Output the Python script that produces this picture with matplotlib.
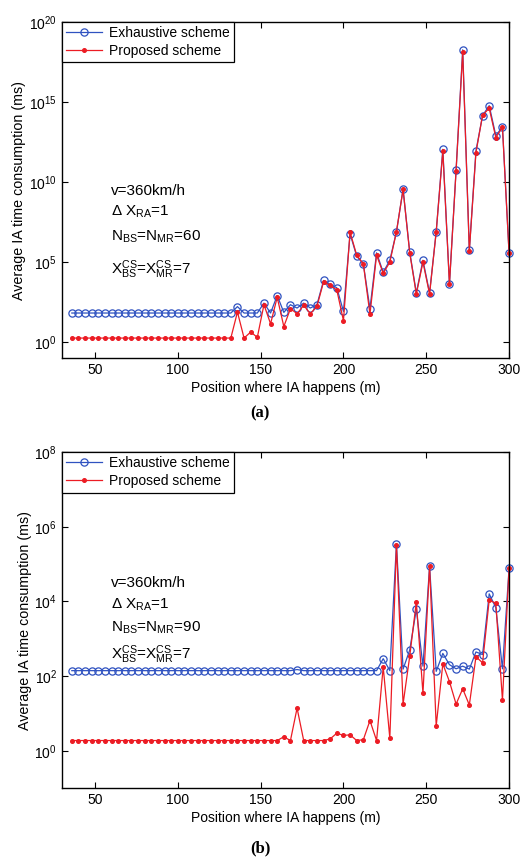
import numpy as np
import matplotlib
matplotlib.use("Agg")
import matplotlib.pyplot as plt
from matplotlib.ticker import NullLocator

plt.rcParams['font.family'] = ['Liberation Sans', 'DejaVu Sans']
plt.rcParams['mathtext.fontset'] = 'custom'
plt.rcParams['mathtext.rm'] = 'Liberation Sans'
plt.rcParams['mathtext.it'] = 'Liberation Sans'

#############################
### Data ###
#############################

# position where IA happens (m)
positions = np.arange(36, 301, 4)

# (a) N_BS = N_MR = 60
exh_a = [66, 66, 66, 66, 66, 66, 66, 66, 66, 66, 66, 66, 66, 66, 66, 66, 66, 66, 66, 66,
         66, 66, 66, 66, 66,
         166, 66, 66, 66, 275, 66, 813, 72, 219, 135, 275, 135, 219, 7.1e3, 4.0e3, 2.5e3,
         83, 5.9e6, 2.3e5, 7.8e4, 123, 3.8e5, 2.3e4, 1.3e5, 7.8e6, 3.5e9, 4.4e5, 1.2e3,
         1.3e5, 1.2e3, 7.8e6, 1.1e12, 4.3e3, 5.5e10, 1.8e18, 5.4e5, 8.9e11, 1.4e14, 5.9e14,
         7.8e12, 2.8e13, 3.5e5]
prop_a = [1.8, 1.8, 1.8, 1.8, 1.8, 1.8, 1.8, 1.8, 1.8, 1.8, 1.8, 1.8, 1.8, 1.8, 1.8, 1.8,
          1.8, 1.8, 1.8, 1.8, 1.8, 1.8, 1.8, 1.8, 1.8,
          76, 1.8, 4.3, 2.0, 219, 14, 630, 9.5, 123, 60, 200, 60, 174, 5.8e3, 3.5e3, 1.8e3,
          22, 7.4e6, 2.7e5, 7.8e4, 56, 2.7e5, 2.0e4, 9.8e4, 7.8e6, 3.5e9, 3.8e5, 1.0e3,
          1.0e5, 1.0e3, 7.8e6, 8.1e11, 4.3e3, 5.0e10, 1.3e18, 5.0e5, 6.9e11, 1.5e14, 4.0e14,
          6.0e12, 2.6e13, 3.5e5]

# (b) N_BS = N_MR = 90
exh_b = [141, 141, 141, 141, 141, 141, 141, 141, 141, 141, 141, 141, 141, 141, 141, 141,
         141, 141, 141, 141, 141, 141, 141, 141, 141, 141, 141, 141, 141, 141, 141, 141,
         141, 141, 151, 141, 141, 141, 141, 141, 141, 141, 141, 141, 141, 141, 141,
         295, 141, 3.5e5, 155, 500, 6.2e3, 186, 8.7e4, 135, 407, 204, 158, 186, 155, 447,
         380, 1.6e4, 6.8e3, 158, 7.8e4]
prop_b = [1.9, 1.9, 1.9, 1.9, 1.9, 1.9, 1.9, 1.9, 1.9, 1.9, 1.9, 1.9, 1.9, 1.9, 1.9, 1.9,
          1.9, 1.9, 1.9, 1.9, 1.9, 1.9, 1.9, 1.9, 1.9, 1.9, 1.9, 1.9, 1.9, 1.9, 1.9, 1.9,
          2.4, 1.9, 14, 1.9, 1.9, 1.9, 1.9, 2.1, 3.0, 2.6, 2.7, 1.9, 2.0, 6.5, 1.9,
          178, 2.2, 3.2e5, 18, 339, 9.8e3, 35, 8.7e4, 4.7, 214, 72, 18, 46, 17, 331,
          229, 1.1e4, 8.9e3, 23, 7.8e4]

y_ticks_a = [1e0, 1e5, 1e10, 1e15, 1e20]
y_ticks_b = [1e0, 1e2, 1e4, 1e6, 1e8]
x_ticks = [50, 100, 150, 200, 250, 300]

BLUE = '#2f52c0'
RED = '#ec1c24'


def draw_panel(ax, exh, prop, yticks, ylim, n_val, tag):
    ax.plot(positions, exh, color=BLUE, lw=0.9, marker='o', ms=5.2,
            mfc='none', mec=BLUE, mew=0.9, label='Exhaustive scheme', clip_on=False)
    ax.plot(positions, prop, color=RED, lw=0.9, marker='o', ms=2.6,
            mfc=RED, mec=RED, label='Proposed scheme', clip_on=False)
    ax.set_yscale('log')
    ax.set_xlim(30, 300)
    ax.set_ylim(*ylim)
    ax.set_xticks(x_ticks)
    ax.set_yticks(yticks)
    ax.yaxis.set_minor_locator(NullLocator())
    ax.tick_params(direction='in', length=4, width=0.8, top=True, right=True,
                   labelsize=10, colors='black')
    for s in ax.spines.values():
        s.set_linewidth(1.0)
    ax.set_xlabel('Position where IA happens (m)', fontsize=10, labelpad=3)
    ax.set_ylabel('Average IA time consumption (ms)', fontsize=10.3, labelpad=2)

    leg = ax.legend(loc='upper left', borderaxespad=0, fancybox=False,
                    edgecolor='black', framealpha=1, fontsize=10,
                    handlelength=2.6, labelspacing=0.3, borderpad=0.3,
                    handletextpad=0.5)
    leg.get_frame().set_linewidth(0.9)

    tx = 0.109
    ax.text(tx, tag[0], 'v=360km/h', transform=ax.transAxes, fontsize=11, va='center')
    ax.text(tx, tag[1], r'$\Delta$ X$_{\mathrm{RA}}$=1', transform=ax.transAxes,
            fontsize=11, va='center')
    ax.text(tx, tag[2], r'N$_{\mathrm{BS}}$=N$_{\mathrm{MR}}$=' + n_val,
            transform=ax.transAxes, fontsize=11, va='center')
    ax.text(tx, tag[3], r'X$^{\mathrm{CS}}_{\mathrm{BS}}$=X$^{\mathrm{CS}}_{\mathrm{MR}}$=7',
            transform=ax.transAxes, fontsize=11, va='center')


fig = plt.figure(figsize=(5.2, 8.61), dpi=100)
ax1 = fig.add_axes([0.119, 0.584, 0.860, 0.3906])
ax2 = fig.add_axes([0.119, 0.0844, 0.860, 0.3906])

draw_panel(ax1, exh_a, prop_a, y_ticks_a, (1e-1, 1e20), '60',
           [0.497, 0.434, 0.360, 0.262])
draw_panel(ax2, exh_b, prop_b, y_ticks_b, (1e-1, 1e8), '90',
           [0.612, 0.547, 0.478, 0.398])

fig.text(0.5, 1 - 413 / 861, '(a)', ha='center', va='center', fontsize=12,
         fontweight='bold', family='Liberation Serif')
fig.text(0.5, 1 - 848 / 861, '(b)', ha='center', va='center', fontsize=12,
         fontweight='bold', family='Liberation Serif')

fig.savefig('out.png', dpi=100)
